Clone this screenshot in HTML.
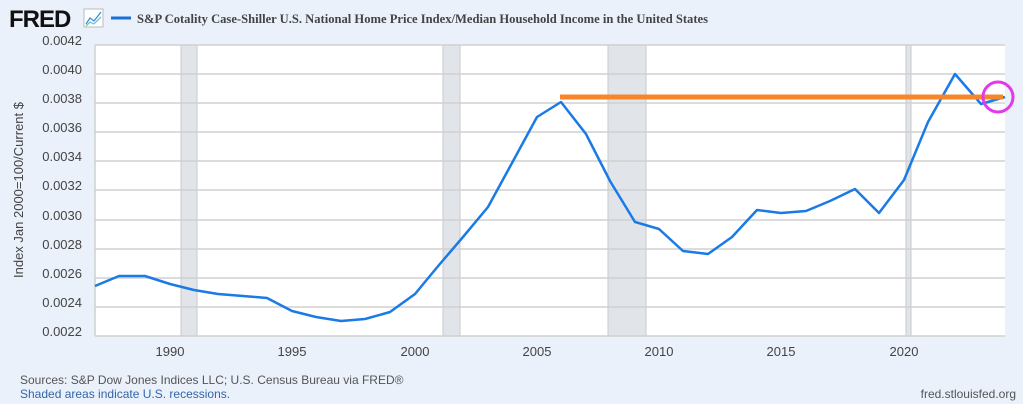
<!DOCTYPE html>
<html><head><style>
body{margin:0;background:#eaf1fa;}
svg{display:block;font-family:"Liberation Sans",sans-serif;}
</style></head><body>
<svg width="1023" height="404" viewBox="0 0 1023 404" xmlns="http://www.w3.org/2000/svg">
<rect width="1023" height="404" fill="#eaf1fa"/>
<text x="9" y="27" font-size="24" font-weight="bold" fill="#111" letter-spacing="-1">FRED</text>
<rect x="84" y="9" width="19" height="18" fill="#fff" stroke="#bbb"/>
<polyline points="86,24 90,18 94,21 101,12" fill="none" stroke="#3a8fd9" stroke-width="1.3"/>
<polyline points="86,26 90,22 94,24 101,17" fill="none" stroke="#6cc" stroke-width="1.3"/>
<line x1="111" y1="18" x2="131" y2="18" stroke="#1a6fd8" stroke-width="3"/>
<text x="137" y="23" font-family="Liberation Serif,serif" font-weight="bold" font-size="12.6" fill="#444" textLength="571" lengthAdjust="spacingAndGlyphs">S&amp;P Cotality Case-Shiller U.S. National Home Price Index/Median Household Income in the United States</text>
<rect x="95" y="45" width="910" height="291" fill="#fff"/>
<g fill="#e1e5ea">
<rect x="181" y="45" width="16" height="291"/>
<rect x="443" y="45" width="17" height="291"/>
<rect x="608" y="45" width="38" height="291"/>
<rect x="906" y="45" width="5" height="291"/>
</g>
<g stroke="#c9c9c9" stroke-width="1">
<line x1="181" y1="45" x2="181" y2="336"/><line x1="197" y1="45" x2="197" y2="336"/>
<line x1="443" y1="45" x2="443" y2="336"/><line x1="460" y1="45" x2="460" y2="336"/>
<line x1="608" y1="45" x2="608" y2="336"/><line x1="646" y1="45" x2="646" y2="336"/>
<line x1="906" y1="45" x2="906" y2="336"/><line x1="911" y1="45" x2="911" y2="336"/>
</g>
<g stroke="#d0d0d0" stroke-width="1.5">
<line x1="95" y1="45" x2="1005" y2="45"/>
<line x1="95" y1="74" x2="1005" y2="74"/>
<line x1="95" y1="103" x2="1005" y2="103"/>
<line x1="95" y1="132" x2="1005" y2="132"/>
<line x1="95" y1="161" x2="1005" y2="161"/>
<line x1="95" y1="190" x2="1005" y2="190"/>
<line x1="95" y1="220" x2="1005" y2="220"/>
<line x1="95" y1="249" x2="1005" y2="249"/>
<line x1="95" y1="278" x2="1005" y2="278"/>
<line x1="95" y1="307" x2="1005" y2="307"/>
<line x1="95" y1="336" x2="1005" y2="336"/>
<line x1="95" y1="45" x2="95" y2="336"/>
</g>
<g font-size="13" fill="#444" text-anchor="end">
<text x="82" y="45">0.0042</text><text x="82" y="74">0.0040</text><text x="82" y="103">0.0038</text>
<text x="82" y="132">0.0036</text><text x="82" y="161">0.0034</text><text x="82" y="190">0.0032</text>
<text x="82" y="220">0.0030</text><text x="82" y="249">0.0028</text><text x="82" y="278">0.0026</text>
<text x="82" y="307">0.0024</text><text x="82" y="336">0.0022</text>
</g>
<g font-size="13" fill="#444" text-anchor="middle">
<text x="170" y="356">1990</text><text x="292" y="356">1995</text><text x="415" y="356">2000</text>
<text x="537" y="356">2005</text><text x="659" y="356">2010</text><text x="781" y="356">2015</text><text x="904" y="356">2020</text>
</g>
<text transform="translate(23,190) rotate(-90)" font-size="13" fill="#444" text-anchor="middle">Index Jan 2000=100/Current $</text>
<polyline fill="none" stroke="#1a7ae6" stroke-width="2.5" stroke-linejoin="round" points="95,286 119,276 145,276 170,284 194,290 218,294 243,296 267,298 292,311 316,317 341,321 365,319 390,312 415,294 439,265 463,237 488,207 512,163 537,117 561,102 586,134 610,181 635,222 659,229 683,251 708,254 732,237 757,210 781,213 806,211 830,201 855,189 879,213 904,180 928,122 955,74 981,104 1005,97"/>
<line x1="560" y1="97" x2="1003" y2="97" stroke="#f5862b" stroke-width="5"/>
<circle cx="998" cy="97" r="15" fill="none" stroke="#e23ae8" stroke-width="3"/>
<text x="20" y="384" font-size="12" fill="#555">Sources: S&amp;P Dow Jones Indices LLC; U.S. Census Bureau via FRED®</text>
<text x="20" y="398" font-size="12" fill="#3366aa">Shaded areas indicate U.S. recessions.</text>
<text x="1016" y="398" font-size="12" fill="#555" text-anchor="end">fred.stlouisfed.org</text>
</svg>
</body></html>
